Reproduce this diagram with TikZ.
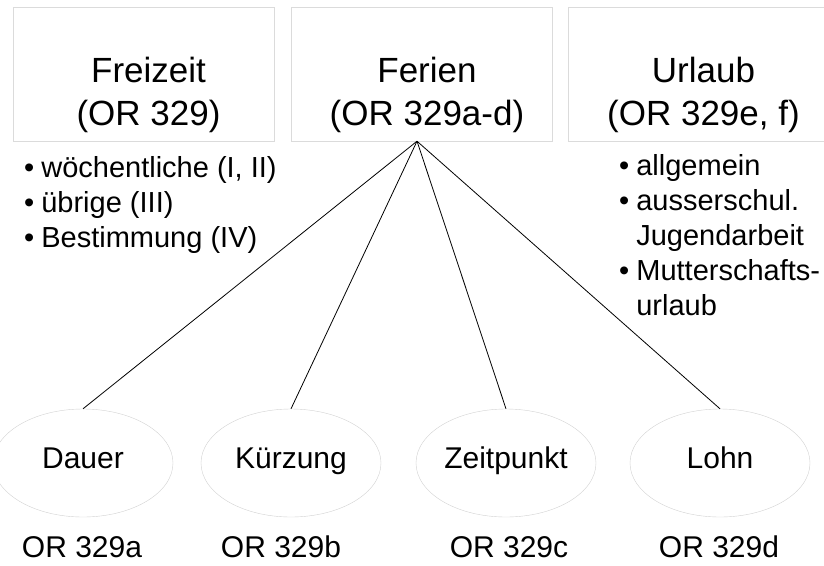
\documentclass[tikz,border=0pt]{standalone}
\usepackage{fontspec}
\setmainfont{Liberation Sans}
\usetikzlibrary{shapes.geometric,positioning}
\tikzset{
    ferien/.style={
        x=1pt, y=-1pt,
        topic/.append style={draw=black!14,minimum width=261pt,minimum height=134pt,inner sep=0pt},
        title/.append style={align=center,anchor=north,inner sep=0pt,font=\fontsize{35}{43}\selectfont},
        items/.append style={anchor=base west,inner sep=0pt,font=\fontsize{29}{35}\selectfont},
        part/.append style={draw=black!18,ellipse,minimum width=180pt,minimum height=108pt,inner sep=0pt,text height=22pt,text depth=12pt,font=\fontsize{30}{36}\selectfont},
        ref/.append style={anchor=base,inner sep=0pt,font=\fontsize{30}{36}\selectfont},
        link/.append style={draw,line width=0.8pt}
    }
}
\newcommand{\itemlist}[1]{\begin{tabular}[t]{@{}l@{\hspace{7pt}}l@{}}#1\end{tabular}}

\begin{document}
\begin{tikzpicture}[ferien]
    \useasboundingbox (0, 0) rectangle (824, 565);

    \node[topic] (frz) at (143.5, 74) {};
    \node[topic] (fer) at (422, 74) {};
    \node[topic] (url) at (698.5, 74) {};
    \node[title] (frzt) at ([xshift=5pt,yshift=-50pt]frz.north) {Freizeit\\(OR 329)};
    \node[title] (fert) at ([xshift=5pt,yshift=-50pt]fer.north) {Ferien\\(OR 329a-d)};
    \node[title] (urlt) at ([xshift=5pt,yshift=-50pt]url.north) {Urlaub\\(OR 329e, f)};

    \node[items] (frzl) at (24, 177) {\itemlist{\textbullet & wöchentliche (I, II)\\
        \textbullet & übrige (III)\\
        \textbullet & Bestimmung (IV)}};
    \node[items] (urll) at (619, 175) {\itemlist{\textbullet & allgemein\\
        \textbullet & ausserschul.\\
        & Jugendarbeit\\
        \textbullet & Mutterschafts-\\
        & urlaub}};

    \coordinate (hub) at ([xshift=-5pt]fer.south);
    \node[part] (dau) at (83, 463) {Dauer};
    \node[part] (kur) at (291, 463) {Kürzung};
    \node[part] (zei) at (506, 463) {Zeitpunkt};
    \node[part] (loh) at (720, 463) {Lohn};
    \foreach \n in {dau, kur, zei, loh}
        \path[link] (hub) -- (\n.north);

    \node[ref] (daur) at (82, 557) {OR 329a};
    \node[ref] (kurr) at (281, 557) {OR 329b};
    \node[ref] (zeir) at (509, 557) {OR 329c};
    \node[ref] (lohr) at (719, 557) {OR 329d};
\end{tikzpicture}
\end{document}
